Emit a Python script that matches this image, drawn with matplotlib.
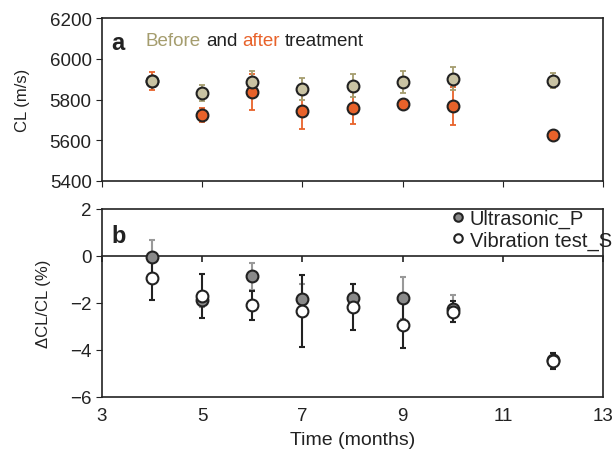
import matplotlib.pyplot as plt
import numpy as np

plt.rcParams['font.family'] = ['Liberation Sans', 'DejaVu Sans']
plt.rcParams['axes.linewidth'] = 1.2

months = [4, 5, 6, 7, 8, 9, 10, 12]

# panel a: longitudinal velocity before / after treatment
cl_before = [5893, 5833, 5885, 5853, 5868, 5885, 5903, 5893]
cl_before_err = [0, 38, 54, 54, 57, 54, 57, 38]
cl_after = [5890, 5722, 5837, 5745, 5760, 5778, 5768, 5628]
cl_after_err = [44, 34, 90, 90, 78, 0, 93, 0]

# panel b: relative change of CL
dcl_p = [-0.05, -1.88, -0.86, -1.85, -1.80, -1.78, -2.25, -4.43]
dcl_p_err = [0.75, 0.30, 0.57, 0.64, 0.60, 0.90, 0.58, 0.30]
dcl_s = [-0.94, -1.70, -2.10, -2.34, -2.18, -2.94, -2.38, -4.47]
dcl_s_err = [0.95, 0.93, 0.62, 1.53, 0.98, 0.97, 0.45, 0.34]

tan_line = '#a59d6e'
tan_fill = '#c9c3a3'
orange = '#e8622a'
edge = '#222222'
txt = '#222222'
fs = 13.5

fig = plt.figure(figsize=(6.16, 4.56), dpi=100)
ax1 = fig.add_axes([0.1656, 0.6009, 0.8134, 0.3574])
ax2 = fig.add_axes([0.1656, 0.1272, 0.8134, 0.4123])

# --- panel a ---
ax1.errorbar(months, cl_after, yerr=cl_after_err, fmt='none', ecolor=orange,
             elinewidth=1.3, capsize=2, capthick=1.3, zorder=2)
ax1.errorbar(months, cl_before, yerr=cl_before_err, fmt='none', ecolor=tan_line,
             elinewidth=1.3, capsize=2, capthick=1.3, zorder=2)
ax1.plot(months, cl_after, 'o', ms=8.5, mfc=orange, mec=edge, mew=1.5,
         ls='none', zorder=3)
ax1.plot(months, cl_before, 'o', ms=8.5, mfc=tan_fill, mec=edge, mew=1.5,
         ls='none', zorder=4)

ax1.set_xlim(3, 13)
ax1.set_ylim(5400, 6200)
ax1.set_yticks([5400, 5600, 5800, 6000, 6200])
ax1.set_xticks([3, 5, 7, 9, 11, 13])
ax1.tick_params(axis='x', direction='out', length=4, labelbottom=False,
                color=edge)
ax1.tick_params(axis='y', direction='out', length=4, labelsize=fs,
                labelcolor=txt, color=edge)
ax1.set_ylabel('CL (m/s)', fontsize=12, color=txt, labelpad=14)

ax1.text(0.018, 0.85, 'a', transform=ax1.transAxes, fontsize=17,
         fontweight='bold', color=txt, va='center')

# coloured title, word after word
words = [('Before', tan_line), ('and', txt), ('after', orange), ('treatment', txt)]
prev = ax1.text(0.087, 0.86, words[0][0], transform=ax1.transAxes,
                fontsize=13.5, color=words[0][1], va='center')
for w, c in words[1:]:
    prev = ax1.annotate(w, xy=(1, 0), xycoords=prev, xytext=(3.7, 0),
                        textcoords='offset points', fontsize=13.5, color=c,
                        va='bottom')

# --- panel b ---
ax2.errorbar(months, dcl_p, yerr=dcl_p_err, fmt='none', ecolor='#999999',
             elinewidth=1.5, capsize=2, capthick=1.5, zorder=2)
ax2.errorbar(months, dcl_s, yerr=dcl_s_err, fmt='none', ecolor=edge,
             elinewidth=1.5, capsize=2, capthick=1.5, zorder=2)
ax2.plot(months, dcl_p, 'o', ms=8.5, mfc='#8a8a8a', mec=edge, mew=1.5,
         ls='none', zorder=3, label='Ultrasonic_P')
ax2.plot(months, dcl_s, 'o', ms=8.5, mfc='white', mec=edge, mew=1.5,
         ls='none', zorder=4, label='Vibration test_S')

ax2.set_xlim(3, 13)
ax2.set_ylim(-6, 2)
ax2.set_yticks([-6, -4, -2, 0, 2])
ax2.set_xticks([3, 5, 7, 9, 11, 13])
ax2.tick_params(axis='x', length=0, pad=7, labelsize=fs, labelcolor=txt)
ax2.tick_params(axis='y', direction='out', length=4, labelsize=fs,
                labelcolor=txt, color=edge)
ax2.set_ylabel('\u0394CL/CL (%)', fontsize=12, color=txt, labelpad=14)
ax2.set_xlabel('Time (months)', fontsize=14, color=txt, labelpad=5)

# zero line with its own tick marks hanging below it
ax3 = ax2.twiny()
ax3.set_xlim(3, 13)
ax3.set_xticks([3, 5, 7, 9, 11, 13])
ax3.spines['bottom'].set_position(('data', 0))
ax3.spines['bottom'].set_color(edge)
for side in ('top', 'left', 'right'):
    ax3.spines[side].set_visible(False)
ax3.xaxis.set_ticks_position('bottom')
ax3.tick_params(axis='x', direction='out', length=4, width=1.2, color=edge,
                labelbottom=False, labeltop=False)
ax3.set_zorder(0)
ax2.set_zorder(1)
ax2.patch.set_visible(False)

ax2.text(0.018, 0.86, 'b', transform=ax2.transAxes, fontsize=17,
         fontweight='bold', color=txt, va='center')

leg = ax2.legend(loc='upper right', bbox_to_anchor=(1.022, 1.01),
                 frameon=False, fontsize=14.5, handletextpad=0.15,
                 borderaxespad=0, borderpad=0.1, labelspacing=0.1,
                 markerscale=0.72, handlelength=0.9)
for t in leg.get_texts():
    t.set_color(txt)

for ax in (ax1, ax2):
    for s in ax.spines.values():
        s.set_color(edge)

fig.savefig('out.png', dpi=100)
